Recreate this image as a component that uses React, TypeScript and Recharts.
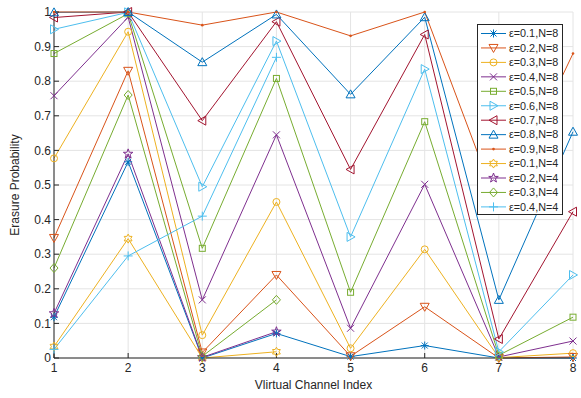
import React from 'react';
import { LineChart, Line, XAxis, YAxis, CartesianGrid, Legend } from 'recharts';

// channel index on the x axis
const channels = [1, 2, 3, 4, 5, 6, 7, 8];
const yTicks = [0, 0.1, 0.2, 0.3, 0.4, 0.5, 0.6, 0.7, 0.8, 0.9, 1];

// erasure probability per channel, N = 8
const e01n8 = [0.118, 0.567, 0.0, 0.071, 0.004, 0.036, 0.0, 0.0];
const e02n8 = [0.347, 0.83, 0.016, 0.24, 0.005, 0.148, 0.0, 0.003];
const e03n8 = [0.577, 0.943, 0.066, 0.451, 0.028, 0.314, 0.001, 0.014];
const e04n8 = [0.758, 0.985, 0.168, 0.645, 0.086, 0.502, 0.003, 0.049];
const e05n8 = [0.88, 0.995, 0.317, 0.808, 0.19, 0.683, 0.008, 0.118];
const e06n8 = [0.95, 0.999, 0.495, 0.916, 0.35, 0.835, 0.018, 0.24];
const e07n8 = [0.984, 1.0, 0.686, 0.972, 0.545, 0.935, 0.055, 0.423];
const e08n8 = [0.999, 1.0, 0.855, 0.993, 0.762, 0.985, 0.168, 0.654];
const e09n8 = [1.0, 1.0, 0.962, 1.0, 0.931, 1.0, 0.43, 0.88];
// N = 4 only has channels 1..4
const e01n4 = [0.033, 0.345, 0.0, 0.018];
const e02n4 = [0.129, 0.59, 0.002, 0.076];
const e03n4 = [0.26, 0.76, 0.005, 0.168];
const e04n4 = [0.025, 0.295, 0.41, 0.869];

const seriesValues = [e01n8, e02n8, e03n8, e04n8, e05n8, e06n8, e07n8, e08n8, e09n8, e01n4, e02n4, e03n4, e04n4];
const seriesNames = [
  'ε=0.1,N=8', 'ε=0.2,N=8', 'ε=0.3,N=8', 'ε=0.4,N=8', 'ε=0.5,N=8', 'ε=0.6,N=8', 'ε=0.7,N=8',
  'ε=0.8,N=8', 'ε=0.9,N=8', 'ε=0.1,N=4', 'ε=0.2,N=4', 'ε=0.3,N=4', 'ε=0.4,N=4',
];
const seriesColors = [
  '#0072BD', '#D95319', '#EDB120', '#7E2F8E', '#77AC30', '#4DBEEE', '#A2142F',
  '#0072BD', '#D95319', '#EDB120', '#7E2F8E', '#77AC30', '#4DBEEE',
];
const seriesShapes = ['asterisk', 'down', 'circle', 'cross', 'square', 'right', 'left', 'up', 'point', 'hexagram', 'pentagram', 'diamond', 'plus'];

const data = channels.map((c, i) => {
  const row: any = { x: c };
  seriesValues.forEach((vals, s) => {
    if (i < vals.length) row['s' + s] = vals[i];
  });
  return row;
});

const FONT = '"Liberation Sans", Arial, Helvetica, sans-serif';
const AXIS = '#262626';

function starPoints(cx: number, cy: number, n: number, ro: number, ri: number) {
  const pts: string[] = [];
  for (let k = 0; k < n * 2; k++) {
    const r = k % 2 === 0 ? ro : ri;
    const a = -Math.PI / 2 + (k * Math.PI) / n;
    pts.push(`${cx + r * Math.cos(a)},${cy + r * Math.sin(a)}`);
  }
  return pts.join(' ');
}

function Marker({ shape, cx, cy, color }: { shape: string; cx: number; cy: number; color: string }) {
  const st = { stroke: color, strokeWidth: 1, fill: 'none' };
  const r = 4;
  switch (shape) {
    case 'asterisk':
      return (
        <g {...st}>
          <line x1={cx - r} y1={cy} x2={cx + r} y2={cy} />
          <line x1={cx} y1={cy - r} x2={cx} y2={cy + r} />
          <line x1={cx - 3} y1={cy - 3} x2={cx + 3} y2={cy + 3} />
          <line x1={cx - 3} y1={cy + 3} x2={cx + 3} y2={cy - 3} />
        </g>
      );
    case 'down':
      return <polygon {...st} points={`${cx - 4.5},${cy - 3.5} ${cx + 4.5},${cy - 3.5} ${cx},${cy + 4.5}`} />;
    case 'up':
      return <polygon {...st} points={`${cx - 4.5},${cy + 3.5} ${cx + 4.5},${cy + 3.5} ${cx},${cy - 4.5}`} />;
    case 'right':
      return <polygon {...st} points={`${cx - 3.5},${cy - 4.5} ${cx - 3.5},${cy + 4.5} ${cx + 4.5},${cy}`} />;
    case 'left':
      return <polygon {...st} points={`${cx + 3.5},${cy - 4.5} ${cx + 3.5},${cy + 4.5} ${cx - 4.5},${cy}`} />;
    case 'circle':
      return <circle {...st} cx={cx} cy={cy} r={3.5} />;
    case 'cross':
      return (
        <g {...st}>
          <line x1={cx - 3.5} y1={cy - 3.5} x2={cx + 3.5} y2={cy + 3.5} />
          <line x1={cx - 3.5} y1={cy + 3.5} x2={cx + 3.5} y2={cy - 3.5} />
        </g>
      );
    case 'square':
      return <rect {...st} x={cx - 3} y={cy - 3} width={6} height={6} />;
    case 'point':
      return <circle cx={cx} cy={cy} r={1.3} fill={color} />;
    case 'hexagram':
      return <polygon {...st} points={starPoints(cx, cy, 6, 4.5, 2.6)} />;
    case 'pentagram':
      return <polygon {...st} points={starPoints(cx, cy, 5, 5, 2)} />;
    case 'diamond':
      return <polygon {...st} points={`${cx},${cy - 4.5} ${cx + 4},${cy} ${cx},${cy + 4.5} ${cx - 4},${cy}`} />;
    case 'plus':
    default:
      return (
        <g {...st}>
          <line x1={cx - 4.5} y1={cy} x2={cx + 4.5} y2={cy} />
          <line x1={cx} y1={cy - 4.5} x2={cx} y2={cy + 4.5} />
        </g>
      );
  }
}

const LegendBox = () => {
  const rowH = 14.45;
  return (
    <svg width={86} height={191} style={{ display: 'block' }}>
      <rect x={0.5} y={0.5} width={85} height={190} fill="#fff" stroke={AXIS} strokeWidth={1} />
      {seriesNames.map((name, i) => {
        const cy = 9.5 + i * rowH;
        return (
          <g key={name}>
            <line x1={4} y1={cy} x2={29} y2={cy} stroke={seriesColors[i]} strokeWidth={1} />
            <Marker shape={seriesShapes[i]} cx={16.5} cy={cy} color={seriesColors[i]} />
            <text x={32} y={cy} dy="0.35em" fontSize={10.8} fill={AXIS} fontFamily={FONT}>
              {name}
            </text>
          </g>
        );
      })}
    </svg>
  );
};

const XLabel = (props: any) => {
  const vb = props.viewBox;
  return (
    <text x={vb.x + vb.width / 2} y={vb.y + 31} textAnchor="middle" fontSize={12} fill={AXIS} fontFamily={FONT}>
      Vlirtual Channel Index
    </text>
  );
};

const YLabel = (props: any) => {
  const vb = props.viewBox;
  const x = 19;
  const y = vb.y + vb.height / 2;
  return (
    <text x={x} y={y} transform={`rotate(-90, ${x}, ${y})`} textAnchor="middle" fontSize={12} fill={AXIS} fontFamily={FONT}>
      Erasure Probability
    </text>
  );
};

const fmtY = (v: number) => (v === 0 || v === 1 ? String(v) : v.toFixed(1));
const blank = () => '';

export default function App() {
  return (
    <div style={{ position: 'absolute', left: 0, top: 0, background: '#fff' }}>
      <LineChart width={581} height={398} data={data} margin={{ top: 12, right: 8, bottom: 0, left: 0 }}>
        <CartesianGrid stroke="#e4e4e4" strokeWidth={1} />
        <XAxis
          type="number"
          dataKey="x"
          domain={[1, 8]}
          ticks={channels}
          height={40}
          tickSize={-5}
          tickMargin={10}
          stroke={AXIS}
          tick={{ fill: AXIS, fontSize: 12, fontFamily: FONT }}
          label={<XLabel />}
        />
        <XAxis
          xAxisId="top"
          orientation="top"
          type="number"
          domain={[1, 8]}
          ticks={channels}
          height={0}
          tickSize={-5}
          stroke={AXIS}
          tickFormatter={blank}
        />
        <YAxis
          type="number"
          domain={[0, 1]}
          ticks={yTicks}
          width={54}
          tickSize={-5}
          tickMargin={8}
          stroke={AXIS}
          tickFormatter={fmtY}
          tick={{ fill: AXIS, fontSize: 12, fontFamily: FONT }}
          label={<YLabel />}
        />
        <YAxis
          yAxisId="r"
          orientation="right"
          type="number"
          domain={[0, 1]}
          ticks={yTicks}
          width={0}
          tickSize={-5}
          stroke={AXIS}
          tickFormatter={blank}
        />
        {seriesValues.map((_, s) => (
          <Line
            key={s}
            type="linear"
            dataKey={'s' + s}
            stroke={seriesColors[s]}
            strokeWidth={1}
            isAnimationActive={false}
            activeDot={false}
            connectNulls={false}
            dot={(p: any) =>
              p.cy == null || p.value == null ? (
                <g key={`d${s}-${p.index}`} />
              ) : (
                <Marker key={`d${s}-${p.index}`} shape={seriesShapes[s]} cx={p.cx} cy={p.cy} color={seriesColors[s]} />
              )
            }
          />
        ))}
        <Legend
          layout="horizontal"
          align="center"
          verticalAlign="middle"
          content={<LegendBox />}
          wrapperStyle={{ left: 477, top: 24, width: 86, height: 191 }}
        />
      </LineChart>
    </div>
  );
}
